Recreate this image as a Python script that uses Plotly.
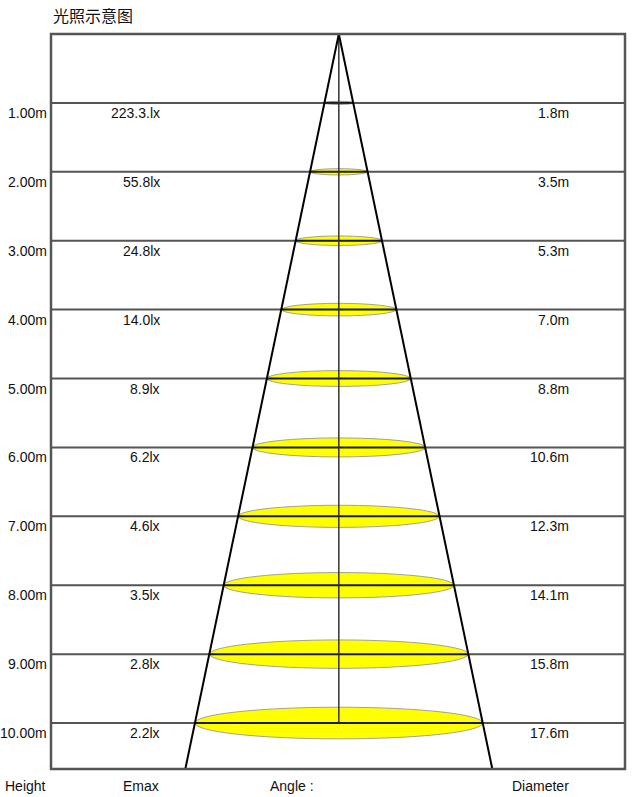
import plotly.graph_objects as go

# Data
heights = [1, 2, 3, 4, 5, 6, 7, 8, 9, 10]
height_labels = ["1.00m", "2.00m", "3.00m", "4.00m", "5.00m", "6.00m", "7.00m", "8.00m", "9.00m", "10.00m"]
emax_labels = ["223.3.lx", "55.8lx", "24.8lx", "14.0lx", "8.9lx", "6.2lx", "4.6lx", "3.5lx", "2.8lx", "2.2lx"]
diameters = [1.8, 3.5, 5.3, 7.0, 8.8, 10.6, 12.3, 14.1, 15.8, 17.6]
diameter_labels = ["1.8m", "3.5m", "5.3m", "7.0m", "8.8m", "10.6m", "12.3m", "14.1m", "15.8m", "17.6m"]
footer_labels = ["Height", "Emax", "Angle :", "Diameter"]

# Geometry / style
W, H = 636, 797
margin = dict(l=51, r=11, t=34, b=28)
x_range = [-17.6, 17.5]
y_bottom = 10.667
plot_w = W - margin["l"] - margin["r"]
plot_h = H - margin["t"] - margin["b"]
px_x = plot_w / (x_range[1] - x_range[0])
px_y = plot_h / y_bottom
ellipse_ratio = 0.11  # vertical / horizontal radius in pixels
font = dict(family="Liberation Sans, Arial, sans-serif", size=14, color="#111")
grid_color = "#555555"

fig = go.Figure()
# invisible trace so the axes exist
fig.add_trace(go.Scatter(x=[0], y=[0], mode="markers", marker=dict(opacity=0), hoverinfo="skip", showlegend=False))

shapes = []
# horizontal row lines
for h in heights:
    shapes.append(dict(type="line", xref="paper", yref="y", x0=0, x1=1, y0=h, y1=h,
                       line=dict(color=grid_color, width=2)))

# light ellipses
for h, d in zip(heights, diameters):
    rx = d / 2
    ry = rx * px_x * ellipse_ratio / px_y
    shapes.append(dict(type="circle", xref="x", yref="y", x0=-rx, x1=rx, y0=h - ry, y1=h + ry,
                       fillcolor="#ffff00", line=dict(color="#8a8a9a", width=0.8)))
    shapes.append(dict(type="line", xref="x", yref="y", x0=-rx, x1=rx, y0=h, y1=h,
                       line=dict(color="#1a1a1a", width=2)))

# centre axis
shapes.append(dict(type="line", xref="x", yref="y", x0=0, x1=0, y0=0, y1=heights[-1],
                   line=dict(color="#333333", width=1.5)))

# cone edges
edge = diameters[-1] / 2 * y_bottom / heights[-1]
for s in (-1, 1):
    shapes.append(dict(type="line", xref="x", yref="y", x0=0, x1=s * edge, y0=0, y1=y_bottom,
                       line=dict(color="#000000", width=2)))

# frame
shapes.append(dict(type="rect", xref="paper", yref="paper", x0=0, x1=1, y0=0, y1=1,
                   line=dict(color=grid_color, width=2.5)))

annotations = []
for h, hl, el, dl in zip(heights, height_labels, emax_labels, diameter_labels):
    annotations.append(dict(x=0, xref="paper", y=h, yref="y", text=hl, showarrow=False,
                            xanchor="right", yanchor="top", xshift=-2, yshift=0, font=font))
    annotations.append(dict(x=(160 - 51) / plot_w, xref="paper", y=h, yref="y", text=el, showarrow=False,
                            xanchor="right", yanchor="top", xshift=2, yshift=0, font=font))
    annotations.append(dict(x=(570 - 51) / plot_w, xref="paper", y=h, yref="y", text=dl, showarrow=False,
                            xanchor="right", yanchor="top", xshift=1, yshift=0, font=font))

footer_x = [(47 - 51) / plot_w, (160 - 51) / plot_w, (267 - 51) / plot_w, (570 - 51) / plot_w]
footer_anchor = ["right", "right", "left", "right"]
for lab, fx, anc in zip(footer_labels, footer_x, footer_anchor):
    annotations.append(dict(x=fx, xref="paper", y=0, yref="paper", text=lab, showarrow=False,
                            xanchor=anc, yanchor="top", xshift=1, yshift=-7, font=font))

annotations.append(dict(x=0, xref="paper", y=1, yref="paper", text="光照示意图", showarrow=False,
                        xanchor="left", yanchor="bottom", xshift=0, yshift=5,
                        font=dict(family="Noto Sans CJK SC", size=16, color="#111")))

fig.update_layout(
    width=W,
    height=H,
    margin=margin,
    paper_bgcolor="white",
    plot_bgcolor="white",
    shapes=shapes,
    annotations=annotations,
    showlegend=False,
    xaxis=dict(range=x_range, visible=False, fixedrange=True),
    yaxis=dict(range=[y_bottom, 0], visible=False, fixedrange=True),
)

# drop the browser's default body margin so the figure sits at the page corner
fig.write_html("out.html", config={"displayModeBar": False},
               post_script="document.body.style.margin = '0px';")
